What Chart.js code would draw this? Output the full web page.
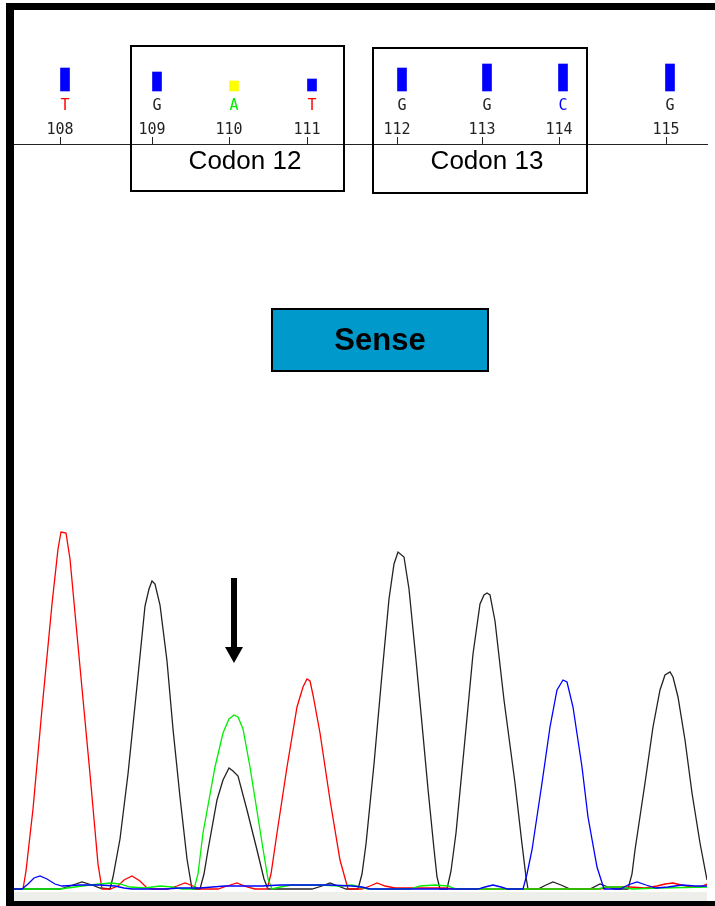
<!DOCTYPE html>
<html>
<head>
<meta charset="utf-8">
<script src="https://cdn.jsdelivr.net/npm/chart.js@4/dist/chart.umd.min.js"></script>
<style>
  html, body { margin: 0; padding: 0; background: #fff; }
  canvas { display: block; }
</style>
</head>
<body>
<canvas id="trace" width="715" height="906"></canvas>
<script>
// base calls (scan position of each call, quality bar height)
const bases = ['T', 'G', 'A', 'T', 'G', 'G', 'C', 'G'];
const basePos = [51, 143, 220, 298, 388, 473, 549, 656];
const quality = [23, 19, 10, 12, 23, 27, 27, 27];
const mixedCall = 2; // A/G mixed call -> yellow bar + arrow

// ruler
const tickLabels = ['108', '109', '110', '111', '112', '113', '114', '115'];
const tickPos = [46, 138, 215, 293, 383, 468, 545, 652];

// codon boxes, in scan units
const codonLabels = ['Codon 12', 'Codon 13'];
const codonFrom = [117, 359];
const codonTo = [330, 573];
const codonLabelAt = [231, 473];

// traces: [scan, signal]
const traceA = [[0,0],[46,0],[61,2],[76,4],[86,5],[96,6],[106,5],[116,2],[131,1],[146,3],[158,2],[168,0],
  [180,0],[184,15],[189,56],[201,122],[209,156],[215,170],[220,174],[224,172],[229,160],[236,122],[243,78],[249,40],[254,10],[258,0],
  [266,2],[278,4],[306,4],[326,3],[338,4],[346,2],[354,0],[396,0],[406,3],[421,4],[434,3],[442,0],[584,0],[592,2],[608,2],[618,0],[646,1],[693,2]];

const traceC = [[0,0],[8,0],[14,5],[20,11],[26,13],[33,10],[41,5],[48,3],[66,4],[86,4],[101,3],[110,1],[118,0],[151,0],[166,1],[186,1],[211,3],[248,3],[266,4],[316,4],[338,3],[348,2],[356,0],[464,0],[471,2],[479,4],[487,2],[494,0],
  [509,0],[513,15],[518,39],[528,106],[536,162],[543,199],[549,209],[553,207],[559,182],[568,122],[574,72],[583,22],[590,0],
  [606,0],[614,4],[623,7],[632,4],[642,1],[654,2],[668,4],[681,3],[693,3]];

const traceG = [[0,0],[16,0],[46,0],[56,3],[68,7],[78,4],[86,1],
  [96,0],[99,12],[106,50],[114,115],[123,203],[131,283],[135,300],[138,308],[141,305],[146,284],[153,228],[159,160],[166,92],[173,30],[178,0],
  [186,0],[190,15],[194,39],[203,89],[209,109],[215,121],[219,118],[224,113],[233,79],[243,39],[250,10],[254,0],
  [298,0],[308,3],[316,6],[324,3],[332,0],
  [344,0],[348,15],[352,45],[360,125],[368,215],[375,290],[380,325],[384,337],[390,332],[395,300],[402,229],[408,165],[414,100],[420,40],[423,12],[426,0],
  [433,0],[437,18],[442,56],[451,150],[459,235],[466,285],[470,294],[473,296],[476,294],[481,268],[490,189],[501,106],[508,45],[512,12],[514,0],
  [524,0],[532,4],[539,7],[547,4],[556,0],[576,0],[586,5],[594,2],[601,0],
  [614,0],[618,15],[621,39],[631,106],[639,162],[646,199],[651,214],[656,217],[659,212],[664,192],[671,149],[678,96],[686,46],[693,9]];

const traceT = [[0,0],
  [9,0],[12,18],[19,80],[28,180],[38,285],[44,340],[47,357],[52,356],[56,330],[66,222],[76,115],[84,25],[88,0],
  [96,0],[104,3],[110,9],[118,13],[126,8],[132,2],[138,0],[154,0],[163,3],[171,6],[179,3],[186,0],[204,0],[213,3],[223,6],[233,2],[241,0],
  [253,0],[257,15],[263,56],[273,122],[283,182],[289,202],[293,210],[296,208],[299,194],[306,156],[316,89],[326,29],[334,0],
  [348,0],[356,3],[363,6],[371,3],[381,1],[431,1],[441,0],[586,0],[596,2],[616,2],[631,1],[643,3],[651,5],[659,6],[667,4],[678,2],[686,2],[693,5]];

const baseColors = { A: '#00ee00', C: '#0000ff', G: '#222222', T: '#ff0000' };
const monoFont = { family: 'DejaVu Sans Mono', size: 15 };

function trace(data, color) {
    return {
        type: 'line',
        data: data,
        xAxisID: 'x',
        yAxisID: 'y',
        borderColor: color,
        borderWidth: 1.3,
        pointRadius: 0,
        fill: false,
        tension: 0
    };
}

// frame, codon boxes, label and arrow
const overlay = {
    id: 'overlay',
    beforeDraw(chart) {
        const { ctx } = chart;
        ctx.save();
        ctx.fillStyle = '#fff';
        ctx.fillRect(0, 0, chart.width, chart.height);
        ctx.restore();
    },
    afterDraw(chart) {
        const { ctx, chartArea: a } = chart;
        const x = chart.scales.x;
        ctx.save();

        // grey strip under the traces
        ctx.fillStyle = '#eeeeea';
        ctx.fillRect(a.left, a.bottom, a.right - a.left, 9);

        // black window frame
        ctx.fillStyle = '#000';
        ctx.fillRect(6, 3, chart.width - 6, 7);
        ctx.fillRect(6, 3, 8, chart.height - 3);
        ctx.fillRect(6, 901, chart.width - 6, 5);

        // codon boxes
        ctx.strokeStyle = '#000';
        ctx.lineWidth = 2;
        ctx.font = '26px "Liberation Sans", Arial, sans-serif';
        ctx.textAlign = 'center';
        ctx.textBaseline = 'middle';
        ctx.fillStyle = '#000';
        codonLabels.forEach((lab, i) => {
            const x1 = Math.round(x.getPixelForValue(codonFrom[i]));
            const x2 = Math.round(x.getPixelForValue(codonTo[i]));
            const top = 46 + i * 2;
            ctx.strokeRect(x1, top, x2 - x1, 145);
            ctx.fillText(lab, x.getPixelForValue(codonLabelAt[i]), 162);
        });

        // strand label
        ctx.fillStyle = '#0099cc';
        ctx.fillRect(272, 309, 216, 62);
        ctx.strokeRect(272, 309, 216, 62);
        ctx.fillStyle = '#000';
        ctx.font = 'bold 31px "Liberation Sans", Arial, sans-serif';
        ctx.fillText('Sense', 380, 341);

        // arrow over the mixed peak
        const ax = Math.round(x.getPixelForValue(basePos[mixedCall]));
        ctx.fillRect(ax - 3, 578, 6, 70);
        ctx.beginPath();
        ctx.moveTo(ax - 9, 647);
        ctx.lineTo(ax + 9, 647);
        ctx.lineTo(ax, 663);
        ctx.closePath();
        ctx.fill();

        ctx.restore();
    }
};

const ctx = document.getElementById('trace').getContext('2d');
new Chart(ctx, {
    type: 'line',
    data: {
        datasets: [
            {
                type: 'bar',
                data: basePos.map((p, i) => ({ x: p, y: [0, quality[i]] })),
                xAxisID: 'x',
                yAxisID: 'yq',
                backgroundColor: quality.map((q, i) => i === mixedCall ? '#ffff00' : '#0000ff'),
                barThickness: 9,
                grouped: false,
                clip: false
            },
            trace(traceC, '#0000ff'),
            trace(traceA, '#00ee00'),
            trace(traceT, '#ff0000'),
            trace(traceG, '#222222')
        ]
    },
    options: {
        responsive: false,
        animation: false,
        events: [],
        layout: { padding: { top: 90, left: 14, right: 8, bottom: 14 } },
        plugins: { legend: { display: false }, tooltip: { enabled: false } },
        scales: {
            x: {
                type: 'linear',
                position: 'top',
                weight: 0,
                min: 0,
                max: 693,
                bounds: 'data',
                offset: false,
                afterBuildTicks: s => { s.ticks = tickPos.map(v => ({ value: v })); },
                afterFit: s => { s.height = 30; },
                ticks: {
                    autoSkip: false,
                    maxRotation: 0,
                    minRotation: 0,
                    padding: -2,
                    color: '#222',
                    font: monoFont,
                    callback: (v, i) => tickLabels[i]
                },
                grid: { offset: false, drawOnChartArea: false, drawTicks: true, tickLength: 7, color: '#222' },
                border: { display: true, color: '#222', width: 1 }
            },
            xb: {
                type: 'linear',
                position: 'top',
                weight: 1,
                min: 0,
                max: 693,
                bounds: 'data',
                offset: false,
                afterBuildTicks: s => { s.ticks = basePos.map(v => ({ value: v })); },
                afterFit: s => { s.height = 24; },
                ticks: {
                    autoSkip: false,
                    maxRotation: 0,
                    minRotation: 0,
                    padding: -1,
                    color: c => baseColors[bases[c.index]],
                    font: monoFont,
                    callback: (v, i) => bases[i]
                },
                grid: { offset: false, display: false, drawTicks: false },
                border: { display: false }
            },
            y: { display: false, min: -3, max: 745 },
            yq: { display: false, min: -801, max: -53 }
        }
    },
    plugins: [overlay]
});
</script>
</body>
</html>
